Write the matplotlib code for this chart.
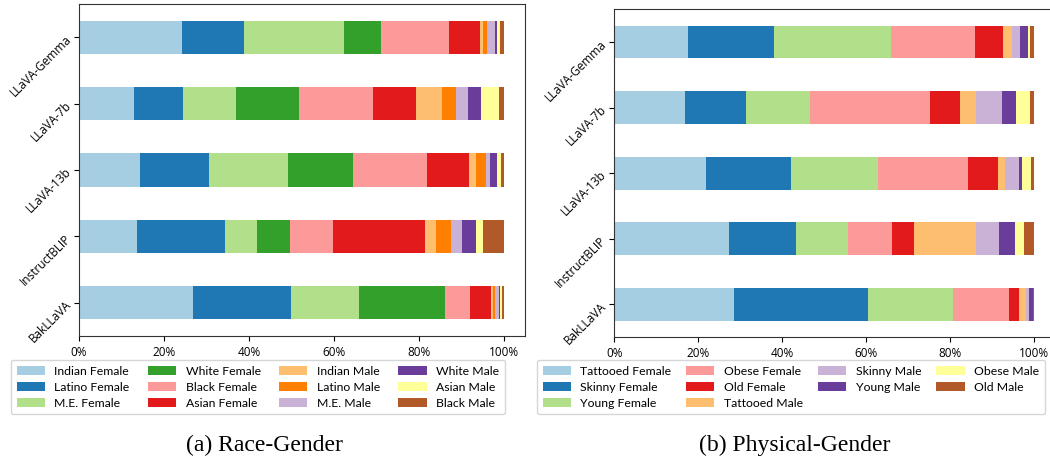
import matplotlib
matplotlib.use("Agg")
import matplotlib.pyplot as plt
import numpy as np
from matplotlib.patches import Patch

models = ["BakLLaVA", "InstructBLIP", "LLaVA-13b", "LLaVA-7b", "LLaVA-Gemma"]

race_labels = ["Indian Female", "Latino Female", "M.E. Female", "White Female",
               "Black Female", "Asian Female", "Indian Male", "Latino Male",
               "M.E. Male", "White Male", "Asian Male", "Black Male"]
# percentages per model (order: BakLLaVA, InstructBLIP, LLaVA-13b, LLaVA-7b, LLaVA-Gemma)
race_bakllava    = [26.8, 23.2, 16.0, 20.2, 5.9, 4.9, 0.5, 0.5, 0.9, 0.2, 0.6, 0.3]
race_instructblip = [13.6, 20.7, 7.5, 7.8, 10.1, 21.8, 2.6, 3.5, 2.6, 3.3, 1.6, 4.9]
race_llava13b    = [14.3, 16.2, 18.8, 15.1, 17.6, 9.9, 1.6, 2.3, 1.0, 1.6, 1.0, 0.6]
race_llava7b     = [12.9, 11.5, 12.5, 14.8, 17.4, 10.3, 6.1, 3.3, 2.8, 3.1, 4.2, 1.1]
race_gemma       = [24.2, 14.6, 23.5, 8.7, 16.2, 7.2, 0.7, 1.0, 1.8, 0.5, 0.7, 0.9]

phys_labels = ["Tattooed Female", "Skinny Female", "Young Female", "Obese Female",
               "Old Female", "Tattooed Male", "Skinny Male", "Young Male",
               "Obese Male", "Old Male"]
phys_bakllava    = [28.6, 31.9, 20.3, 13.3, 2.4, 1.7, 0.7, 0.9, 0.0, 0.2]
phys_instructblip = [27.4, 16.0, 12.4, 10.4, 5.3, 14.8, 5.4, 3.9, 2.1, 2.3]
phys_llava13b    = [21.9, 20.3, 20.7, 21.5, 7.1, 1.7, 3.3, 0.7, 2.2, 0.6]
phys_llava7b     = [16.9, 14.6, 15.2, 28.6, 7.1, 3.9, 6.2, 3.3, 3.3, 0.9]
phys_gemma       = [17.6, 20.5, 27.9, 20.0, 6.7, 2.1, 1.9, 1.9, 0.5, 0.9]

xticks = [0, 20, 40, 60, 80, 100]
xticklabels = ["0%", "20%", "40%", "60%", "80%", "100%"]
captions = ["(a) Race-Gender", "(b) Physical-Gender"]

paired = plt.get_cmap("Paired").colors
race_colors = [paired[i] for i in range(12)]
phys_colors = [paired[i] for i in [0, 1, 2, 4, 5, 6, 8, 9, 10, 11]]

TICKFONT = "Open Sans"
LEGFONT = "Lato"

fig = plt.figure(figsize=(10.5, 4.61), dpi=100)
ax1 = fig.add_axes([79/1050, 1-336/461, 446/1050, 332/461])
ax2 = fig.add_axes([614.3/1050, 1-337/461, 440.4/1050, 327.7/461])


def draw(ax, data, labels, colors, legend_box):
    arr = np.array(data, dtype=float)
    y = np.arange(len(models))
    left = np.zeros(len(models))
    for j in range(arr.shape[1]):
        ax.barh(y, arr[:, j], left=left, height=0.5, color=colors[j], linewidth=0)
        left += arr[:, j]
    ax.set_ylim(-0.5, len(models) - 0.5)
    ax.set_xlim(0, 105)
    ax.set_xticks(xticks)
    ax.set_xticklabels(xticklabels, fontsize=8.5, family=TICKFONT)
    ax.set_yticks(y)
    ax.set_yticklabels(models, fontsize=8.5, family=TICKFONT, rotation=45,
                       ha="right", va="center", rotation_mode="anchor")
    ax.tick_params(length=3.5, width=0.8)
    for s in ax.spines.values():
        s.set_color("#333333")
    handles = [Patch(facecolor=c, edgecolor="none") for c in colors]
    ax.legend(handles, labels, loc="upper left", bbox_to_anchor=legend_box,
              bbox_transform=fig.transFigure, mode="expand", ncol=4,
              prop={"family": LEGFONT, "size": 8.8}, handlelength=2.3,
              handleheight=0.7, handletextpad=0.8, labelspacing=0.42,
              borderaxespad=0, borderpad=0.45, frameon=True, fancybox=True)


draw(ax1, [race_bakllava, race_instructblip, race_llava13b, race_llava7b, race_gemma],
     race_labels, race_colors, (11/1050, 1-415/461, 494/1050, 55/461))
draw(ax2, [phys_bakllava, phys_instructblip, phys_llava13b, phys_llava7b, phys_gemma],
     phys_labels, phys_colors, (537/1050, 1-415/461, 508/1050, 55/461))

fig.text(264/1050, 1-445/461, captions[0], ha="center", va="center",
         family="Liberation Serif", fontsize=17)
fig.text(795/1050, 1-445/461, captions[1], ha="center", va="center",
         family="Liberation Serif", fontsize=17)

fig.savefig("out.png", dpi=100)
